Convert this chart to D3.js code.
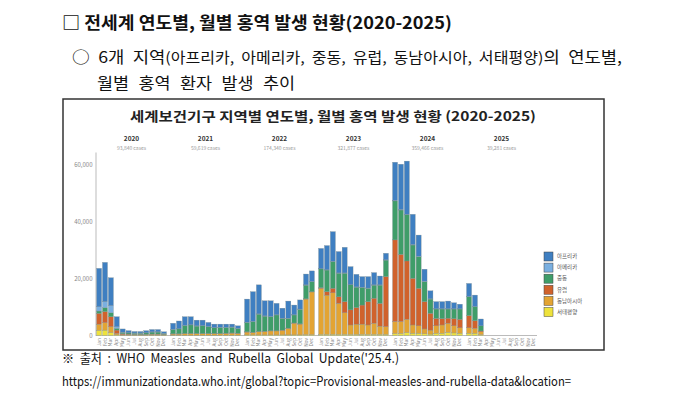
<!DOCTYPE html>
<html>
<head>
<meta charset="utf-8">
<script src="https://cdn.jsdelivr.net/npm/d3@7"></script>
<style>
body{margin:0;background:#fff;}
text{font-family:"Noto Sans CJK KR","Noto Sans",sans-serif;}
</style>
</head>
<body>
<svg id="page"></svg>
<script>

//chart values (cases per month, 2020-01 to 2025-03)//

var years = [2020, 2021, 2022, 2023, 2024, 2025]
var yearCases = ["93,840 cases", "59,619 cases", "174,340 cases", "321,877 cases", "359,466 cases", "39,281 cases"]
var months = ["Jan","Feb","Mar","Apr","May","Jun","Jul","Aug","Sep","Oct","Nov","Dec"]
var yTicks = [0, 20000, 40000, 60000]

var africa = [13500,13800,9800,3500,1100,700,500,500,700,800,800,500,
              2100,2700,3000,2800,2000,1900,1400,1200,1100,1100,1000,900,
              8100,10400,10200,5300,5500,4000,3500,6000,3400,3200,3800,3700,
              7100,8500,10400,7500,9000,6300,4400,3700,4000,4300,3100,2300,
              13400,15900,18700,10600,7400,4200,2800,2500,2500,2700,2100,1600,
              4600,4000,2400]
var americas = [1500,2100,2500,600,100,100,100,100,100,100,100,100,
                100,100,100,100,100,100,100,100,100,100,100,100,
                100,100,100,100,100,100,100,100,100,100,100,100,
                100,100,100,100,100,100,100,100,100,100,100,100,
                200,200,200,200,200,200,100,100,100,100,100,100,
                100,100,0]
var easternMed = [800,1400,1400,600,500,400,400,400,500,700,700,300,
                  1500,1700,2800,3000,2600,2700,2400,2000,2100,2000,2000,1600,
                  3300,3800,6100,5300,4900,5500,4100,3400,2800,5100,4800,3500,
                  6600,7600,9400,8300,10000,8800,7200,6200,4700,4600,6400,5800,
                  13700,15600,16200,11700,11100,7000,5000,3300,3400,3200,3400,3600,
                  6600,4900,1800]
var europe = [3800,3900,3500,1200,300,200,100,100,100,100,100,100,
              100,100,100,100,100,100,100,100,100,100,100,100,
              100,100,100,100,100,100,100,100,100,100,100,100,
              300,1200,1600,2300,3900,5300,5800,6700,8200,8800,8000,17600,
              28700,23600,20500,16400,13200,9600,5900,2600,2200,1800,2500,3000,
              4300,2700,300]
var seAsia = [2200,2600,2100,500,200,200,200,200,200,300,300,200,
              400,400,500,500,500,500,500,500,500,600,700,600,
              1000,800,1100,1200,1400,1400,1600,2300,4100,3800,12500,15000,
              16100,13800,14600,10900,7600,3300,3600,3600,3300,3900,2900,2700,
              4200,4200,4700,2900,2600,1700,1400,2600,2900,3200,2500,1900,
              1900,1700,1000]
var westernPac = [1800,1900,1000,200,100,100,100,100,100,100,100,100,
                  100,100,100,100,100,100,100,100,100,100,100,100,
                  200,200,200,200,200,200,200,200,200,200,300,300,
                  400,400,400,400,400,400,400,400,400,400,400,400,
                  700,700,1000,800,800,600,500,800,800,1100,900,800,
                  800,800,300]

//stack order bottom to top, legend reads top to bottom//
var regions = ["서태평양", "동남아시아", "유럽", "중동", "아메리카", "아프리카"]
var regionSeries = [westernPac, seAsia, europe, easternMed, americas, africa]
var colors = ["#eee23c", "#e3a433", "#d0622c", "#3f9d69", "#7aafe0", "#3f7fc1"]

var screen = {width: 680, height: 394}

var rows = africa.map(function(d, i)
           {
           var row = {year: years[Math.floor(i/12)], month: i%12}
           regions.forEach(function(r, k){ row[r] = regionSeries[k][i] })
           return row
           })

var svg = d3.select("#page")
            .attr("width", screen.width)
            .attr("height", screen.height)

//page texts above the picture//

svg.append("text")
   .attr("x", 62).attr("y", 29)
   .attr("font-size", 17).attr("font-weight", 700).attr("fill", "#111")
   .attr("textLength", 390).attr("lengthAdjust", "spacingAndGlyphs")
   .text("□ 전세계 연도별, 월별 홍역 발생 현황(2020-2025)")

var line2 = svg.append("text")
   .attr("x", 72).attr("y", 63)
   .attr("font-size", 16).attr("fill", "#111")
   .attr("word-spacing", 4)
   .attr("textLength", 550).attr("lengthAdjust", "spacingAndGlyphs")
line2.append("tspan").text("○ 6개 지역")
line2.append("tspan").attr("font-size", 14.5).attr("word-spacing", 3).text("(아프리카, 아메리카, 중동, 유럽, 동남아시아, 서태평양)")
line2.append("tspan").text("의 연도별,")

svg.append("text")
   .attr("x", 97).attr("y", 89)
   .attr("font-size", 16).attr("fill", "#111")
   .attr("word-spacing", 5)
   .attr("textLength", 198).attr("lengthAdjust", "spacingAndGlyphs")
   .text("월별 홍역 환자 발생 추이")

//picture frame//

svg.append("rect")
   .attr("x", 63).attr("y", 99)
   .attr("width", 541).attr("height", 251)
   .attr("fill", "#fff").attr("stroke", "#333").attr("stroke-width", 1.5)

svg.append("text")
   .attr("x", 333).attr("y", 121)
   .attr("text-anchor", "middle")
   .attr("font-size", 13).attr("font-weight", 700).attr("fill", "#222")
   .attr("textLength", 406).attr("lengthAdjust", "spacingAndGlyphs")
   .text("세계보건기구 지역별 연도별, 월별 홍역 발생 현황 (2020-2025)")

//scales//

var x0 = d3.scaleBand().domain(years).range([96, 537]).paddingInner(0.04)
var x1 = d3.scaleBand().domain(d3.range(12)).range([0, x0.bandwidth()]).paddingInner(0.15).paddingOuter(0.1)
var yScale = d3.scaleLinear().domain([0, 64500]).range([335.5, 152])
var cScale = d3.scaleOrdinal().domain(regions).range(colors)

//year headings//

var heads = svg.append("g").selectAll("g")
               .data(years)
               .enter()
               .append("g")
               .attr("transform", function(d){ return "translate(" + (x0(d) + x0.bandwidth()/2) + ",0)" })
heads.append("text")
     .attr("y", 141).attr("text-anchor", "middle")
     .attr("font-size", 6.5).attr("font-weight", 700).attr("fill", "#333")
     .text(function(d){ return d })
heads.append("text")
     .attr("y", 149.5).attr("text-anchor", "middle")
     .attr("font-size", 5).attr("fill", "#999")
     .text(function(d, i){ return yearCases[i] })

//axes//

var yAxis = d3.axisLeft(yScale).tickValues(yTicks).tickSize(0).tickSizeOuter(0).tickPadding(3)
              .tickFormat(d3.format(","))
var ya = svg.append("g").attr("transform", "translate(95.5,0)").call(yAxis)
ya.select(".domain").attr("stroke", "#aaa").attr("stroke-width", 0.8)
ya.selectAll("text").attr("font-size", 6).attr("fill", "#888").attr("font-family", "Liberation Sans, sans-serif")

svg.append("line")
   .attr("x1", 96).attr("x2", 537)
   .attr("y1", yScale(0)).attr("y2", yScale(0))
   .attr("stroke", "#aaa").attr("stroke-width", 0.8)

years.forEach(function(yr)
     {
     var xa = svg.append("g")
                 .attr("transform", "translate(" + x0(yr) + "," + yScale(0) + ")")
                 .call(d3.axisBottom(x1).tickSize(0).tickPadding(0).tickFormat(function(m){ return months[m] }))
     xa.select(".domain").remove()
     xa.selectAll("text")
       .attr("font-size", 4.8).attr("fill", "#888")
       .attr("font-family", "Liberation Sans, sans-serif")
       .attr("text-anchor", "end")
       .attr("dy", "0.32em")
       .attr("transform", "translate(0,2.5) rotate(-90)")
       .attr("x", 0).attr("y", 0)
     })

//stacked bars//

var stacked = d3.stack().keys(regions)(rows)

svg.append("g").selectAll("g")
   .data(stacked)
   .enter()
   .append("g")
   .attr("fill", function(s){ return cScale(s.key) })
   .selectAll("rect")
   .data(function(s){ return s })
   .enter()
   .append("rect")
   .attr("x", function(d){ return x0(d.data.year) + x1(d.data.month) })
   .attr("width", x1.bandwidth())
   .attr("y", function(d){ return yScale(d[1]) })
   .attr("height", function(d){ return yScale(d[0]) - yScale(d[1]) })
   .attr("stroke", "#7a8a90").attr("stroke-width", 0.3)

//legend//

var legend = svg.append("g").selectAll("g")
                .data(regions.slice().reverse())
                .enter()
                .append("g")
                .attr("transform", function(d, i){ return "translate(544," + (252 + i*11.1) + ")" })
legend.append("rect")
      .attr("width", 9).attr("height", 9)
      .attr("fill", function(d){ return cScale(d) })
      .attr("stroke", "#444").attr("stroke-width", 0.5)
legend.append("text")
      .attr("x", 13).attr("y", 6.3)
      .attr("font-size", 5.5).attr("fill", "#555")
      .text(function(d){ return d })

//source lines under the picture//

svg.append("text")
   .attr("x", 62).attr("y", 363)
   .attr("font-size", 13).attr("fill", "#111")
   .attr("word-spacing", 3)
   .attr("textLength", 337).attr("lengthAdjust", "spacingAndGlyphs")
   .text("※ 출처 : WHO Measles and Rubella Global Update('25.4.)")

svg.append("text")
   .attr("x", 62).attr("y", 386)
   .attr("font-size", 13).attr("fill", "#111")
   .attr("textLength", 509).attr("lengthAdjust", "spacingAndGlyphs")
   .text("https://immunizationdata.who.int/global?topic=Provisional-measles-and-rubella-data&location=")

</script>
</body>
</html>
